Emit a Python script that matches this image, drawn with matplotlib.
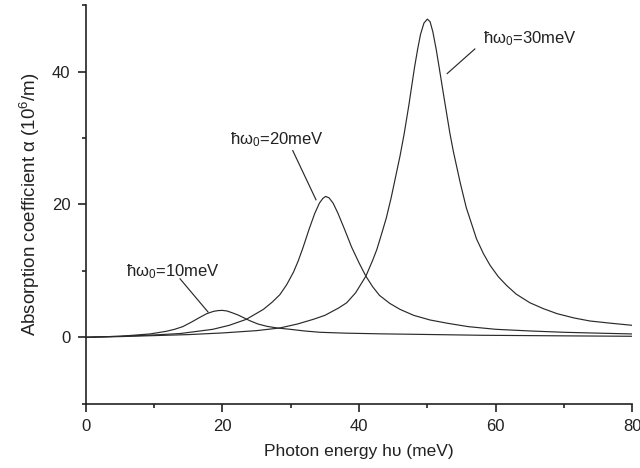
import matplotlib
matplotlib.use("Agg")
import matplotlib.pyplot as plt
from matplotlib.ticker import MultipleLocator

plt.rcParams['font.family'] = ['Liberation Sans', 'DejaVu Sans']
plt.rcParams['mathtext.fontset'] = 'custom'
plt.rcParams['mathtext.rm'] = 'Liberation Sans'
plt.rcParams['mathtext.it'] = 'Liberation Sans'

# hbar*omega0 = 10 meV
x10 = [0, 5, 9.4, 11.8, 13, 14.2, 15.5, 16.7, 17.7, 18.7, 19.4, 20, 20.7, 21.4, 22.3,
       23.2, 24, 25.2, 26.5, 28, 29.9, 32, 34.3, 38, 43, 50, 58, 65, 72, 80]
y10 = [0, 0.15, 0.5, 0.9, 1.2, 1.6, 2.3, 3.0, 3.55, 3.9, 4.02, 4.05, 3.95, 3.7, 3.35,
       2.9, 2.5, 2.0, 1.65, 1.4, 1.2, 0.95, 0.75, 0.62, 0.52, 0.42, 0.3, 0.25, 0.2, 0.15]

# hbar*omega0 = 20 meV
x20 = [0, 5, 10, 13.8, 16, 18.6, 21, 23.5, 26.0, 27.3, 28.4, 29.4, 30.4, 31.1, 31.8,
       32.7, 33.5, 34.2, 34.7, 35.1, 35.6, 36.2, 36.9, 37.9, 38.9, 40, 41, 42, 43, 44.5,
       46, 48, 50.4, 53, 56, 60, 65, 70, 75, 80]
y20 = [0, 0.15, 0.35, 0.56, 0.85, 1.2, 1.8, 2.7, 4.2, 5.3, 6.4, 7.9, 9.8, 11.5, 13.5,
       16.3, 18.6, 20.2, 20.9, 21.2, 21.0, 20.2, 18.7, 16.2, 13.6, 11.2, 9.2, 7.6, 6.3, 5.1,
       4.2, 3.3, 2.6, 2.1, 1.6, 1.2, 0.95, 0.75, 0.62, 0.5]

# hbar*omega0 = 30 meV
x30 = [0, 5, 10, 15, 20, 25, 28.4, 31, 33.3, 35, 37, 38.2, 39.5, 41, 42, 42.6, 43.4, 44,
       44.7, 45.3, 46, 46.6, 47.3, 48.1, 48.6, 49.0, 49.5, 50.0, 50.4, 50.8, 51.3, 51.7,
       52.5, 53.3, 53.8, 54.8, 55.7, 57.2, 58.2, 59.2, 60.4, 61.6, 63, 65, 67, 69, 71.5,
       73.8, 77, 80]
y30 = [0, 0.1, 0.25, 0.4, 0.65, 1.0, 1.4, 2.0, 2.7, 3.3, 4.4, 5.2, 6.7, 9.2, 11.6, 13.2,
       15.9, 18.0, 21.0, 23.9, 27.3, 30.6, 35.0, 40.5, 43.5, 45.6, 47.3, 47.9, 47.5, 46.0,
       43.3, 40.8, 35.7, 30.7, 28.0, 23.3, 19.5, 14.8, 12.6, 10.8, 9.1, 7.8, 6.5, 5.2, 4.3,
       3.55, 2.9, 2.45, 2.1, 1.8]

labels = ["ħω$_0$=10meV", "ħω$_0$=20meV", "ħω$_0$=30meV"]

fig = plt.figure(figsize=(6.4, 4.68), dpi=100)
ax = fig.add_axes([0.134, 0.1374, 0.854, 0.8516])

lc = '#2a2a2a'
for xs, ys in [(x10, y10), (x20, y20), (x30, y30)]:
    ax.plot(xs, ys, color=lc, lw=0.85)

ax.set_xlim(0, 80)
ax.set_ylim(-10, 50)

for s in ['top', 'right']:
    ax.spines[s].set_visible(False)
for s in ['left', 'bottom']:
    ax.spines[s].set_linewidth(1.2)
    ax.spines[s].set_color('#222222')

ax.xaxis.set_major_locator(MultipleLocator(20))
ax.xaxis.set_minor_locator(MultipleLocator(10))
ax.yaxis.set_major_locator(MultipleLocator(20))
ax.yaxis.set_minor_locator(MultipleLocator(10))
ax.tick_params(which='major', direction='out', length=6, width=1.2, labelsize=12,
               colors='#222222', pad=5)
ax.tick_params(which='minor', direction='out', length=3, width=1.2, colors='#222222')

ax.set_xlabel("Photon energy hυ (meV)", fontsize=12.5, color='#222222', labelpad=7)
ax.set_ylabel("Absorption coefficient α (10$^6$/m)", fontsize=13.5, color='#222222',
              labelpad=7)

# annotations
ax.text(5.9, 9.9, labels[0], fontsize=12, va='center', ha='left', color='#222222')
ax.plot([13.8, 17.9], [8.8, 3.8], color=lc, lw=0.85)
ax.text(21.1, 29.7, labels[1], fontsize=12, va='center', ha='left', color='#222222')
ax.plot([30.3, 33.7], [28.1, 20.7], color=lc, lw=0.85)
ax.text(58.2, 44.9, labels[2], fontsize=12, va='center', ha='left', color='#222222')
ax.plot([56.95, 52.9], [43.4, 39.7], color=lc, lw=0.85)

fig.savefig("out.png", dpi=100)
